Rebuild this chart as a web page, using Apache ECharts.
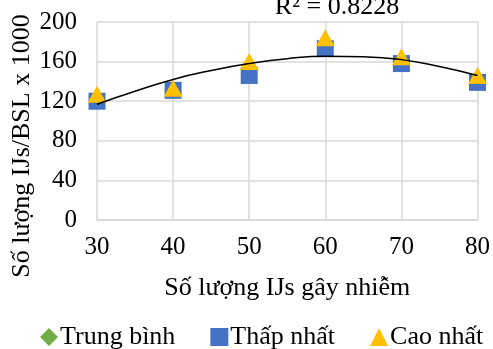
<!DOCTYPE html>
<html>
<head>
<meta charset="utf-8">
<script src="https://cdn.jsdelivr.net/npm/echarts@6/dist/echarts.min.js"></script>
<style>
  html, body { margin: 0; padding: 0; background: #fff; }
  #chart { width: 493px; height: 349px; }
</style>
</head>
<body>
<div id="chart"></div>
<script>
const xValues = [30, 40, 50, 60, 70, 80];
const avgValues = [123, 132, 153, 178, 161, 142];
const minValues = [120, 131, 146, 173, 158, 139];
const maxValues = [127, 133, 160, 184, 165, 146];
// trendline
const trendX = [30, 35, 40, 45, 50, 55, 60, 65, 70, 75, 80];
const trendY = [117, 130, 142, 151, 158, 163, 165.5, 165, 162, 155, 146];

const font = "Liberation Serif";
const chart = echarts.init(document.getElementById("chart"));

const pairs = (xs, ys) => xs.map((x, i) => [x, ys[i]]);

chart.setOption({
    backgroundColor: "#fff",
    animation: false,
    grid: { left: 97, right: 12, top: 22, bottom: 129 },
    legend: {
        top: 319,
        left: 35,
        itemWidth: 18,
        itemHeight: 18,
        itemGap: 35,
        textStyle: { fontFamily: font, fontSize: 26, color: "#000", padding: [0, 0, 0, -3] },
        data: [
            { name: "Trung bình", icon: "diamond", itemStyle: { color: "#70ad47" } },
            { name: "Thấp nhất", icon: "rect" },
            { name: "Cao nhất", icon: "triangle" }
        ]
    },
    xAxis: {
        type: "value",
        min: 30,
        max: 80,
        interval: 10,
        name: "Số lượng IJs gây nhiễm",
        nameLocation: "middle",
        nameGap: 55,
        nameTextStyle: { fontFamily: font, fontSize: 26, color: "#000" },
        axisLine: { lineStyle: { color: "#d9d9d9", width: 1.5 } },
        axisTick: { show: false },
        axisLabel: { fontFamily: font, fontSize: 25, color: "#000", margin: 15 },
        splitLine: { show: true, lineStyle: { color: "#d9d9d9", width: 1.5 } }
    },
    yAxis: {
        type: "value",
        min: 0,
        max: 200,
        interval: 40,
        axisLine: { show: false },
        axisTick: { show: false },
        axisLabel: { fontFamily: font, fontSize: 25, color: "#000", margin: 20 },
        splitLine: { show: true, lineStyle: { color: "#d9d9d9", width: 1.5 } }
    },
    graphic: [
        {
            type: "text",
            x: 22,
            y: 146,
            rotation: Math.PI / 2,
            style: {
                text: "Số lượng IJs/BSL x 1000",
                font: "26px " + font,
                fill: "#000",
                align: "center",
                verticalAlign: "middle"
            }
        },
        {
            type: "text",
            x: 337,
            y: 7,
            style: {
                text: "R² = 0.8228",
                font: "26px " + font,
                fill: "#000",
                align: "center",
                verticalAlign: "middle"
            }
        }
    ],
    series: [
        {
            name: "Trung bình",
            type: "scatter",
            symbol: "diamond",
            symbolSize: 12,
            itemStyle: { color: "#70ad47", opacity: 1 },
            data: pairs(xValues, avgValues),
            z: 2
        },
        {
            name: "Thấp nhất",
            type: "scatter",
            symbol: "rect",
            symbolSize: 17,
            itemStyle: { color: "#4472c4", opacity: 1 },
            data: pairs(xValues, minValues),
            z: 3
        },
        {
            name: "Cao nhất",
            type: "scatter",
            symbol: "triangle",
            symbolSize: [19, 17],
            itemStyle: { color: "#ffc000", opacity: 1 },
            data: pairs(xValues, maxValues),
            z: 4
        },
        {
            name: "trend",
            type: "line",
            smooth: true,
            symbol: "none",
            lineStyle: { color: "#000", width: 1.5 },
            data: pairs(trendX, trendY),
            z: 5
        }
    ]
});
</script>
</body>
</html>
